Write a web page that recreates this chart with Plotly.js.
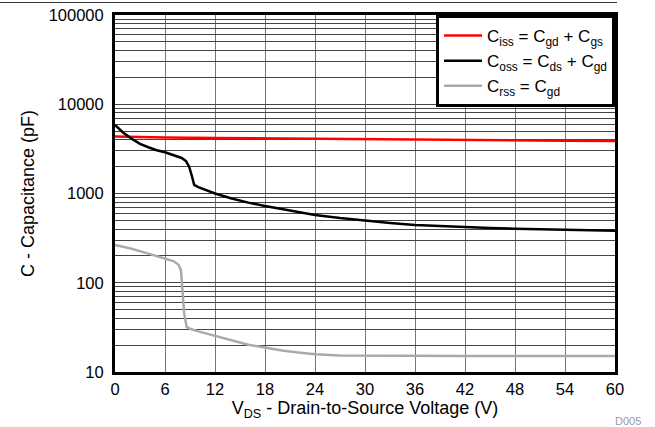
<!DOCTYPE html>
<html>
<head>
<meta charset="utf-8">
<script src="https://cdn.plot.ly/plotly-3.0.1.min.js"></script>
<style>html,body{margin:0;padding:0;background:#fff;}#chart{width:655px;height:427px;}</style>
</head>
<body>
<div id="chart"></div>
<script>
// Data
var cissV = [0, 3, 6, 12, 18, 24, 30, 36, 42, 48, 54, 60];
var cissC = [4350, 4280, 4230, 4180, 4130, 4090, 4050, 4010, 3980, 3950, 3910, 3880];

var cossV = [0, 0.5, 1, 2, 3, 4, 5, 6, 7, 8, 8.5, 8.9, 9.2, 9.5, 10, 11, 12, 14, 16, 18, 21, 24, 27, 30, 33, 36, 39, 42, 45, 48, 51, 54, 57, 60];
var cossC = [5850, 5300, 4800, 4100, 3600, 3300, 3050, 2900, 2700, 2500, 2320, 2000, 1600, 1250, 1180, 1080, 1000, 880, 790, 724, 640, 575, 530, 496, 468, 444, 430, 421, 410, 403, 398, 393, 388, 383];

var crssV = [0, 2, 4, 6, 7, 7.6, 7.9, 8.0, 8.1, 8.3, 8.6, 9, 10, 12, 14, 16, 18, 20, 22, 24, 27, 30, 36, 42, 48, 54, 60];
var crssC = [265, 240, 212, 188, 175, 160, 140, 110, 80, 45, 32, 30.5, 28.5, 25.3, 22.5, 20.2, 18.8, 17.4, 16.5, 15.8, 15.3, 15.2, 15.1, 15.1, 15.1, 15.1, 15.1];

var xTicks = [0, 6, 12, 18, 24, 30, 36, 42, 48, 54, 60];
var yDecades = [10, 100, 1000, 10000, 100000];
var yDecadeLabels = ['10', '100', '1000', '10000', '100000'];

var names = ['C<sub>iss</sub> = C<sub>gd</sub> + C<sub>gs</sub>',
             'C<sub>oss</sub> = C<sub>ds</sub> + C<sub>gd</sub>',
             'C<sub>rss</sub> = C<sub>gd</sub>'];

// build log gridline values (decades plus 2..9 minors)
var yTickVals = [], yTickText = [];
for (var d = 0; d < yDecades.length; d++) {
  var base = yDecades[d];
  yTickVals.push(base); yTickText.push(yDecadeLabels[d]);
  if (d < yDecades.length - 1) {
    for (var m = 2; m <= 9; m++) { yTickVals.push(base * m); yTickText.push(''); }
  }
}

var font = 'Arial, "Liberation Sans", sans-serif';

var traces = [
  {x: cissV, y: cissC, name: names[0], mode: 'lines', line: {color: '#ff0000', width: 2.5}},
  {x: cossV, y: cossC, name: names[1], mode: 'lines', line: {color: '#000000', width: 2.5}},
  {x: crssV, y: crssC, name: names[2], mode: 'lines', line: {color: '#aaaaaa', width: 2.5}}
];

var layout = {
  width: 655, height: 427,
  margin: {l: 115, r: 40, t: 15, b: 55},
  paper_bgcolor: '#fff', plot_bgcolor: '#fff',
  font: {family: font, size: 16, color: '#000'},
  showlegend: true,
  legend: {
    x: 1, xanchor: 'right', y: 1, yanchor: 'top',
    bgcolor: '#fff', bordercolor: '#000', borderwidth: 3,
    font: {family: font, size: 17, color: '#000'},
    itemwidth: 38,
    tracegroupgap: 0
  },
  xaxis: {
    range: [0, 60], tickvals: xTicks, ticktext: xTicks.map(String),
    showgrid: true, gridcolor: '#777', gridwidth: 1,
    showline: true, linecolor: '#000', linewidth: 3, mirror: true,
    ticks: '', zeroline: false,
    tickfont: {family: font, size: 16.5, color: '#000'},
    title: {text: 'V<sub>DS</sub> - Drain-to-Source Voltage (V)', font: {family: font, size: 18, color: '#000'}, standoff: 5}
  },
  yaxis: {
    type: 'log', range: [1, 5], tickvals: yTickVals, ticktext: yTickText,
    showgrid: true, gridcolor: '#444', gridwidth: 1,
    showline: true, linecolor: '#000', linewidth: 3, mirror: true,
    ticks: '', zeroline: false, ticklabelstandoff: 5,
    tickfont: {family: font, size: 16.5, color: '#000'},
    title: {text: 'C - Capacitance (pF)', font: {family: font, size: 18, color: '#000'}, standoff: 10}
  },
  shapes: [
    {type: 'line', xref: 'paper', yref: 'paper', x0: -0.23, x1: 1.004, y0: 1.035, y1: 1.035,
     line: {color: '#333', width: 1}}
  ],
  annotations: [
    {text: 'D005', xref: 'paper', yref: 'paper', x: 1.056, y: -0.115, xanchor: 'right', yanchor: 'top',
     showarrow: false, font: {family: font, size: 11, color: '#999'}}
  ]
};

Plotly.newPlot('chart', traces, layout, {displayModeBar: false, staticPlot: true});
</script>
</body>
</html>
